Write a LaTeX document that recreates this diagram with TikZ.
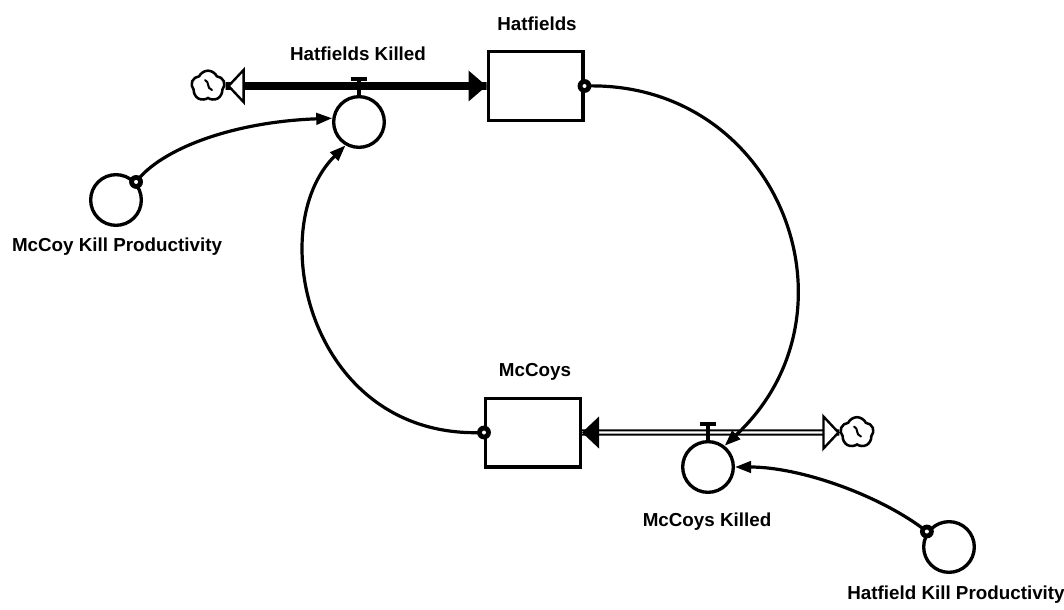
\documentclass[tikz,border=0pt]{standalone}
\usepackage{fontspec}
\setmainfont{Liberation Sans}
\usetikzlibrary{arrows.meta,calc,shapes.symbols}
\begin{document}
\begin{tikzpicture}[x=0.75pt,y=-0.75pt,
  lw/.style={line width=2.5pt},
  stock/.style={draw, line width=2.5pt, fill=white, minimum width=71pt, minimum height=51.5pt, inner sep=0},
  aux/.style={draw, circle, line width=2.5pt, fill=white, minimum size=38pt, inner sep=0},
  lbl/.style={font=\bfseries\fontsize{14.1}{16}\selectfont, inner sep=0},
  conn/.style={line width=2.4pt, -{Triangle[length=12pt,width=8.5pt]}},
  sink/.style={cloud, draw, cloud puffs=5, cloud puff arc=130, aspect=1, minimum width=25pt, minimum height=23pt, inner sep=0, line width=1.9pt, fill=white},
  curl/.style={line width=1.5pt, line cap=round},
  solidpipe/.style={line width=5.8pt},
  dblpipe/.style={double, line width=1.6pt, double distance=1.6pt},
  openhead/.style={draw, fill=white, line width=1.8pt, line join=miter},
  valvebar/.style={line width=3pt},
]
\fill[white] (0,0) rectangle (1064,610);
\useasboundingbox (0,0) rectangle (1064,610);

% stocks
\node[stock] (hfs) at (535.5,86) {};
\node[stock] (mcs) at (533,432.5) {};
% sinks
\node[sink] (hkcl) at (208,86) {};
\node[sink] (mkcl) at (857,432.5) {};
\draw[curl] ($(hkcl.center)+(-3,-6)$) .. controls ($(hkcl.center)+(2,-4)$) and ($(hkcl.center)+(-2,2)$) .. ($(hkcl.center)+(4,4)$);
\draw[curl] ($(mkcl.center)+(-3,-6)$) .. controls ($(mkcl.center)+(2,-4)$) and ($(mkcl.center)+(-2,2)$) .. ($(mkcl.center)+(4,4)$);

% pipes
\draw[solidpipe] (hkcl.east) -- (hfs.west);
\draw[dblpipe] (mcs.east) -- (mkcl.west);

% arrowheads on pipes
\fill (hfs.west) -- ++(-18,-15.5) -- ++(0,31) -- cycle;
\draw[openhead] ($(hkcl.east)+(3,0)$) -- ++(15,-16) -- ++(0,32) -- cycle;
\fill (mcs.east) -- ++(17,-16) -- ++(0,32) -- cycle;
\draw[openhead] ($(mkcl.west)+(-1,0)$) -- ++(-15,-16) -- ++(0,32) -- cycle;

% flows (valves) and auxiliaries
\node[aux] (hk) at (359,122) {};
\node[aux] (mk) at (708,467) {};
\node[aux] (mkp) at (116,200) {};
\node[aux] (hkp) at (949,547) {};

\draw[lw] (hk.north) -- ++(0,-16);
\draw[valvebar] ($(hk.north)+(-8,-16)$) -- ++(16,0);
\draw[lw] (mk.north) -- ++(0,-16);
\draw[valvebar] ($(mk.north)+(-8,-16)$) -- ++(16,0);

% connectors
\draw[conn] (mkp.42) .. controls (160,150) and (230,122) .. (hk.172);
\draw[conn] (mcs.west) .. controls (310,440) and (262,228) .. (hk.240);
\draw[conn] (hfs.east) .. controls (778,80) and (868,312) .. (mk.52);
\draw[conn] (hkp.145) .. controls (880,495) and (800,467) .. (mk.east);

% source dots
\coordinate (d1) at (hfs.east);
\coordinate (d2) at (mcs.west);
\coordinate (d3) at (mkp.42);
\coordinate (d4) at (hkp.145);
\foreach \d in {d1,d2,d3,d4} {
  \fill (\d) circle (5.2pt);
  \fill[white] (\d) circle (1.5pt);
}

% labels
\node[lbl] (thfs) at (537,24) {Hatfields};
\node[lbl] (thk) at (358,54) {Hatfields Killed};
\node[lbl] (tmkp) at (117,247) {McCoy Kill Productivity};
\node[lbl] (tmcs) at (535,372) {McCoys};
\node[lbl] (tmk) at (707,522) {McCoys Killed};
\node[lbl] (thkp) at (956,595) {Hatfield Kill Productivity};
\end{tikzpicture}
\end{document}
